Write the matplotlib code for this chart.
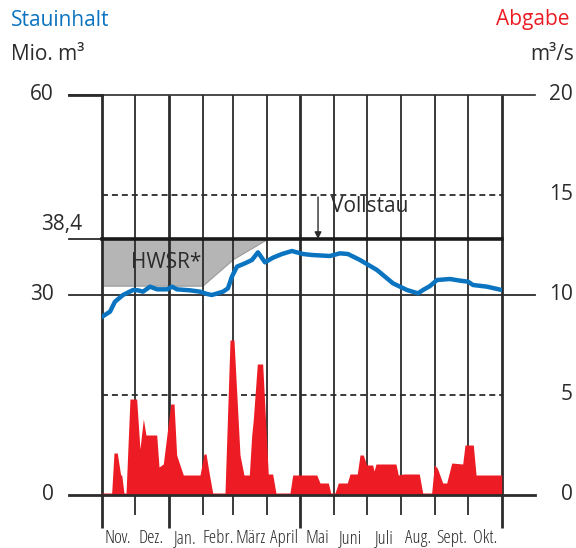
import numpy as np
import matplotlib.pyplot as plt

plt.rcParams['font.family'] = ['Open Sans', 'DejaVu Sans']

# hydrological year, day 0 = 1 Nov
months = ["Nov.", "Dez.", "Jan.", "Febr.", "März", "April", "Mai", "Juni", "Juli", "Aug.", "Sept.", "Okt."]
month_days = [30, 31, 31, 28, 31, 30, 31, 30, 31, 31, 30, 31]
long_ticks = [0, 2, 6, 12]  # boundaries with long ticks

# Stauinhalt (Mio. m3)
stau_day = [0, 7.6, 12.1, 19.4, 28.6, 33.1, 37.7, 44.1, 50.5, 59.6, 64.2, 68.7, 80.6, 89.7,
            96.1, 100.6, 110.7, 115.2, 118.8, 123.4, 130.7, 137.1, 142.6, 149.0, 156.3, 164.5,
            173.6, 183.7, 191.9, 208.3, 217.4, 224.7, 235.7, 251.2, 265.8, 278.6, 288.6, 293.2,
            299.6, 306.0, 317.8, 327.0, 334.3, 338.8, 351.6, 365]
stau_val = [26.7, 27.5, 29.0, 30.0, 30.75, 30.7, 30.5, 31.25, 30.85, 30.85, 31.25, 30.85, 30.7, 30.5,
            30.15, 30.0, 30.5, 31.0, 32.75, 34.25, 34.75, 35.25, 36.4, 34.9, 35.6, 36.15,
            36.6, 36.15, 36.0, 35.85, 36.25, 36.15, 35.25, 33.75, 31.75, 30.75, 30.25, 30.75,
            31.35, 32.25, 32.4, 32.15, 32.0, 31.5, 31.25, 30.75]

# Abgabe (m3/s)
abg_day = [0, 9.1, 11.2, 14.2, 17.3, 18.3, 20.3, 22.2, 25.8, 31.9, 34.9, 38.0, 40.4, 50.2, 52.3,
           56.2, 63.0, 66.0, 68.4, 71.4, 74.5, 89.7, 93.3, 95.2, 98.2, 101.3, 112.5, 117.1, 120.7,
           126.2, 129.8, 134.7, 136.9, 138.3, 142.0, 146.9, 152.0, 156.0, 159.0, 171.8, 174.3,
           196.2, 199.2, 206.8, 209.0, 212.9, 215.9, 224.1, 226.6, 233.2, 235.7, 238.7, 241.8,
           247.3, 248.5, 250.3, 268.5, 270.6, 275.2, 289.8, 292.9, 301.1, 303.5, 306.2, 311.2,
           314.8, 319.4, 329.4, 331.5, 339.1, 341.6, 363.5, 365]
abg_val = [0.1, 0.1, 2.1, 2.1, 1.0, 1.0, 0.1, 0.1, 4.8, 4.8, 2.3, 3.8, 3.0, 3.0, 1.4,
           1.55, 4.55, 4.55, 2.0, 1.5, 1.0, 1.0, 2.05, 2.05, 1.05, 0.1, 0.1, 7.75, 7.75,
           2.0, 1.0, 1.0, 3.0, 3.75, 6.55, 6.55, 1.05, 1.05, 0.1, 0.1, 1.0,
           1.0, 0.6, 0.6, 0.1, 0.1, 0.6, 0.6, 1.05, 1.05, 2.0, 2.0, 1.5,
           1.5, 1.2, 1.55, 1.55, 1.0, 1.05, 1.05, 0.1, 0.1, 1.5, 1.35, 0.6,
           0.6, 1.6, 1.55, 2.5, 2.5, 1.0, 1.0, 1.0]

# HWSR (Hochwasserschutzraum) lower edge
hwsr_day = [0, 92, 120, 151]
hwsr_low = [31.4, 31.4, 35.4, 38.4]
vollstau = 38.4

left_ticks = [0, 30, 60]
right_ticks = [0, 5, 10, 15, 20]

DARK = '#2b2b2b'
BLUE = '#0a74c0'
RED = '#ed1c24'
FS = 15

W, H = 576, 548
fig = plt.figure(figsize=(W / 100, H / 100), dpi=100)
ax = fig.add_axes([101.7 / W, 53 / H, 400 / W, 400 / H])
ax.set_xlim(0, 365)
ax.set_ylim(0, 60)
ax.axis('off')
ax2 = ax.twinx()
ax2.set_ylim(0, 20)
ax2.set_xlim(0, 365)
ax2.axis('off')

bounds = np.concatenate([[0], np.cumsum(month_days)])

# HWSR polygon
ax.fill_between(hwsr_day, hwsr_low, vollstau, color='#b5b5b5', edgecolor='#9a9a9a', lw=0.8, zorder=1)
ax.text(58.5, 34.8, 'HWSR*', fontsize=FS, color=DARK, ha='center', va='center', zorder=2)

# month grid lines with ticks below
for i, b in enumerate(bounds):
    low = -4.95 if i in long_ticks else -3.0
    lw = 2.0 if i in long_ticks else 1.3
    ax.vlines(b, low, 60, color=DARK, lw=lw, clip_on=False, zorder=2)
for i, m in enumerate(months):
    ax.text((bounds[i] + bounds[i + 1]) / 2, -7.15, m, fontsize=13.5, color=DARK,
            family=['Liberation Sans Narrow', 'Open Sans'], fontstretch='condensed',
            ha='center', va='baseline', clip_on=False)

# horizontal reference lines
ax2.axhline(15, 0, 1, color=DARK, lw=1.3, ls=(0, (3.3, 2.2)), zorder=2)
ax2.axhline(5, 0, 1, color=DARK, lw=1.3, ls=(0, (3.3, 2.2)), zorder=2)
ax.axhline(60, -0.0825, 1.083, color=DARK, lw=1.2, clip_on=False, zorder=3)
ax.axhline(60, -0.0825, 0, color=DARK, lw=2, clip_on=False, zorder=3)
ax.axhline(30, -0.0825, 1.083, color=DARK, lw=1.3, clip_on=False, zorder=3)
ax.axhline(vollstau, -0.0825, 0, color=DARK, lw=1.3, clip_on=False, zorder=3)
ax.axhline(vollstau, 0, 1, color='#1a1a1a', lw=2.6, clip_on=False, zorder=3)

# Abgabe
ax2.fill_between(abg_day, 0, abg_val, color=RED, lw=0, zorder=4)
ax2.axhline(0, -0.0825, 1.083, color=DARK, lw=2, clip_on=False, zorder=5)

# Stauinhalt
ax.plot(stau_day, stau_val, color=BLUE, lw=3.2, solid_joinstyle='round', zorder=6)

# Vollstau annotation
ax.annotate('', xy=(197.4, vollstau), xytext=(197.4, 44.7),
            arrowprops=dict(arrowstyle='-|>', color=DARK, lw=1, mutation_scale=10, shrinkA=0, shrinkB=0),
            zorder=6)
ax.text(209, 43.2, 'Vollstau', fontsize=FS, color=DARK, ha='left', va='center')

# tick labels
for v in left_ticks:
    ax.text(-0.12 * 365, v, str(v), fontsize=FS, color=DARK, ha='right', va='center', clip_on=False)
ax.text(-0.05 * 365, 40.6, '38,4', fontsize=FS, color=DARK, ha='right', va='center', clip_on=False)
for v in right_ticks:
    ax2.text(365 * 1.178, v, str(v), fontsize=FS, color=DARK, ha='right', va='center', clip_on=False)

# axis titles
fig.text(11 / W, 1 - 20 / H, 'Stauinhalt', fontsize=FS, color=BLUE, ha='left', va='center')
fig.text(11 / W, 1 - 54 / H, 'Mio. m³', fontsize=FS, color=DARK, ha='left', va='center')
fig.text(570 / W, 1 - 20 / H, 'Abgabe', fontsize=FS, color=RED, ha='right', va='center')
fig.text(574 / W, 1 - 54 / H, 'm³/s', fontsize=FS, color=DARK, ha='right', va='center')

plt.savefig('out.png', dpi=100)
